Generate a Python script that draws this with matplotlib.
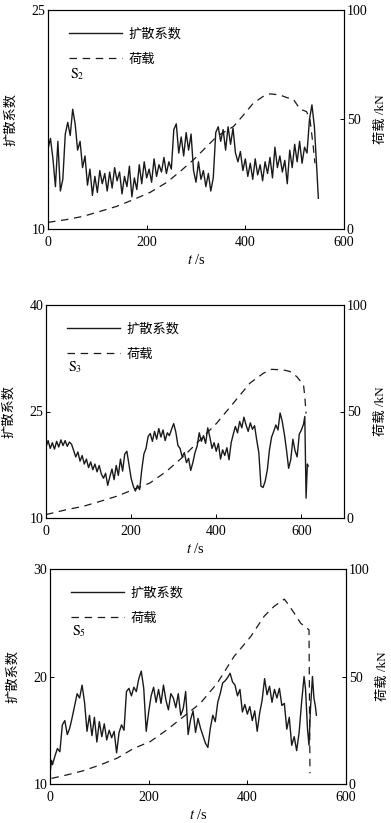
import matplotlib
matplotlib.use('Agg')
import matplotlib.pyplot as plt

plt.rcParams['font.family'] = ['Liberation Serif', 'Noto Sans CJK SC']
plt.rcParams['mathtext.fontset'] = 'stix'
plt.rcParams['axes.linewidth'] = 0.8

# ---- S2 ----
s2_t = [0, 5, 10, 15, 20, 25, 30, 35, 40, 45, 50, 55, 60, 65, 70, 75, 80, 85, 90, 95,
        100, 105, 110, 115, 120, 125, 130, 135, 140, 145, 150, 155, 160, 165, 170, 175, 180, 185, 190, 195,
        200, 205, 210, 215, 220, 225, 230, 235, 240, 245, 250, 255, 260, 265, 270, 275, 280, 285, 290, 295,
        300, 305, 310, 315, 320, 325, 330, 335, 340, 345, 350, 355, 360, 365, 370, 375, 380, 385, 390, 395,
        400, 405, 410, 415, 420, 425, 430, 435, 440, 445, 450, 455, 460, 465, 470, 475, 480, 485, 490, 495,
        500, 505, 510, 515, 520, 525, 530, 535, 540, 545, 548]
s2_d = [15.5, 16.2, 14.8, 12.9, 16.0, 12.6, 13.4, 16.5, 17.3, 16.4, 18.2, 17.2, 15.4, 16.0, 14.2, 15.0, 13.0, 14.1, 12.3, 13.6,
        12.5, 14.0, 13.1, 13.8, 12.6, 13.9, 12.8, 14.2, 13.3, 13.9, 12.4, 13.6, 12.9, 14.3, 12.2, 13.5, 12.7, 14.4, 13.1, 14.6,
        13.5, 14.1, 13.2, 14.8, 13.6, 14.4, 13.9, 14.9, 13.8, 14.6, 14.1, 16.8, 17.2, 15.2, 16.3, 15.0, 16.6, 15.4, 16.5, 14.0,
        13.2, 14.6, 13.4, 14.0, 12.9, 13.8, 12.6, 13.5, 16.6, 17.0, 16.0, 16.8, 15.4, 17.0, 15.8, 16.9, 15.2, 14.6, 15.3, 14.0,
        14.8, 13.6, 14.5, 13.4, 14.8, 13.7, 14.4, 13.3, 14.6, 13.8, 14.9, 13.5, 15.6, 14.2, 15.0, 13.9, 14.7, 13.1, 15.4, 14.2,
        15.8, 14.6, 16.0, 14.5, 15.6, 15.2, 17.5, 18.5, 17.0, 14.0, 12.1]
s2_lt = [0, 38, 72, 105, 139, 173, 207, 241, 268, 295, 322, 342, 376, 396, 416, 436, 450, 470, 484, 497, 511, 524, 531, 538, 541]
s2_load = [3.0, 4.3, 5.8, 8.0, 10.3, 13.4, 16.7, 21.3, 26.3, 31.6, 37.7, 42.2, 46.8, 52.0, 57.4, 60.5, 61.7, 61.2, 60.0, 59.3,
           54.7, 53.6, 50.0, 37.0, 30.0]

# ---- S3 ----
s3_t = [0, 5, 10, 15, 20, 25, 30, 35, 40, 45, 50, 55, 60, 65, 70, 75, 80, 85, 90, 95,
        100, 105, 110, 115, 120, 125, 130, 135, 140, 145, 150, 155, 160, 165, 170, 175, 180, 185, 190, 195,
        200, 205, 210, 215, 220, 225, 230, 235, 240, 245, 250, 255, 260, 265, 270, 275, 280, 285, 290, 295,
        300, 305, 310, 315, 320, 325, 330, 335, 340, 345, 350, 355, 360, 365, 370, 375, 380, 385, 390, 395,
        400, 405, 410, 415, 420, 425, 430, 435, 440, 445, 450, 455, 460, 465, 470, 475, 480, 485, 490, 495,
        500, 505, 510, 515, 520, 525, 530, 535, 540, 545, 550, 555, 560, 565, 570, 575, 580, 585, 590, 595,
        600, 605, 608, 611, 614, 616]
s3_d = [20.0, 20.9, 19.8, 20.6, 19.7, 20.8, 20.0, 21.0, 20.2, 20.9, 20.1, 20.7, 20.4, 19.5, 18.6, 19.3, 18.0, 18.8, 17.6, 18.3,
        17.1, 17.9, 16.8, 17.6, 16.5, 17.4, 16.2, 15.6, 16.3, 14.6, 15.8, 16.9, 15.4, 17.4, 16.0, 18.3, 16.6, 19.0, 19.4, 17.5,
        15.6, 14.5, 13.8, 14.6, 14.0, 16.8, 19.0, 19.8, 21.5, 21.9, 20.8, 22.2, 21.1, 22.6, 21.4, 22.4, 20.9, 22.0, 21.6, 22.5,
        23.3, 22.1, 20.2, 19.8, 18.6, 19.2, 17.8, 18.4, 16.7, 17.8, 19.2, 20.1, 22.0, 20.8, 21.6, 20.5, 22.7, 21.4, 19.8, 20.6,
        19.4, 20.5, 18.3, 19.6, 18.8, 19.9, 18.2, 20.6, 21.8, 22.9, 22.0, 23.6, 22.7, 24.2, 23.1, 22.2, 23.4, 22.5, 23.0, 21.0,
        19.2, 14.5, 14.3, 15.2, 16.8, 19.6, 21.4, 22.2, 23.1, 22.4, 24.8, 23.6, 21.8, 19.6, 17.0, 18.2, 21.1, 19.5, 18.6, 21.8,
        22.4, 23.2, 24.3, 12.8, 17.6, 17.3]
s3_lt = [0, 48, 88, 127, 166, 205, 244, 283, 323, 362, 401, 440, 479, 511, 530, 558, 573, 589, 605, 608, 611]
s3_load = [1.6, 3.9, 5.5, 7.8, 10.2, 13.3, 16.4, 21.9, 28.9, 36.7, 44.5, 53.9, 63.3, 68.0, 69.8, 69.5, 68.8, 66.4, 62.5, 57.0, 49.0]

# ---- S5 ----
s5_t = [0, 3, 5, 10, 15, 20, 25, 30, 35, 40, 45, 50, 55, 60, 65, 70, 75, 80, 85, 90, 95,
        100, 105, 110, 115, 120, 125, 130, 135, 140, 145, 150, 155, 160, 165, 170, 175, 180, 185, 190, 195,
        200, 205, 210, 215, 220, 225, 230, 235, 240, 245, 250, 255, 260, 265, 270, 275, 280, 285, 290, 295,
        300, 305, 310, 315, 320, 325, 330, 335, 340, 345, 350, 355, 360, 365, 370, 375, 380, 385, 390, 395,
        400, 405, 410, 415, 420, 425, 430, 435, 440, 445, 450, 455, 460, 465, 470, 475, 480, 485, 490, 495,
        500, 505, 510, 515, 518, 522, 525, 528, 532, 535, 538, 540]
s5_d = [11.0, 12.2, 11.8, 12.6, 13.3, 13.0, 15.5, 15.9, 14.6, 15.2, 16.2, 17.3, 18.4, 18.0, 19.2, 17.6, 14.9, 16.4, 14.5, 16.2, 13.9,
        15.8, 14.4, 15.6, 14.1, 15.0, 14.3, 14.9, 12.9, 14.8, 15.5, 15.0, 18.6, 18.9, 18.2, 19.0, 18.6, 19.8, 20.5, 18.9, 14.9,
        16.7, 18.2, 19.0, 17.6, 18.8, 17.5, 19.2, 17.8, 16.9, 18.4, 18.0, 17.1, 18.4, 16.4, 17.0, 18.6, 14.6, 16.0, 16.8, 14.8,
        16.1, 15.2, 14.5, 13.8, 13.4, 15.2, 16.4, 15.8, 17.6, 18.4, 19.4, 19.6, 19.9, 20.3, 19.5, 19.2, 18.2, 18.8, 16.7, 17.4,
        16.5, 17.2, 15.9, 16.8, 14.9, 16.6, 17.8, 19.8, 18.3, 19.1, 17.6, 18.8, 18.0, 18.9, 17.3, 17.5, 15.1, 16.2, 13.6, 14.4,
        13.1, 14.8, 17.6, 20.0, 18.8, 15.1, 13.6, 17.0, 20.0, 18.0, 17.2, 16.4]
s5_lt = [3, 34, 68, 102, 136, 170, 203, 237, 271, 305, 339, 373, 407, 434, 454, 475, 481, 495, 508, 525, 527]
s5_load = [2.6, 4.2, 6.2, 8.9, 12.0, 16.6, 19.7, 25.2, 31.4, 37.6, 46.9, 59.3, 68.6, 78.0, 82.6, 86.0, 84.2, 79.5, 74.8, 71.7, 5.0]

panels = [
    ('2', s2_t, s2_d, s2_lt, s2_load, (10, 25), [10, 25], 600, [0.1228, 0.7218, 0.757, 0.2661]),
    ('3', s3_t, s3_d, s3_lt, s3_load, (10, 40), [10, 25, 40], 700, [0.1176, 0.3706, 0.7621, 0.2588]),
    ('5', s5_t, s5_d, s5_lt, s5_load, (10, 30), [10, 20, 30], 600, [0.1279, 0.0474, 0.757, 0.2612]),
]

fig = plt.figure(figsize=(3.91, 8.23), dpi=100)

for sub, t, d, lt, load, ylim, yticks, xmax, pos in panels:
    ax = fig.add_axes(pos)
    ax2 = ax.twinx()
    l1, = ax.plot(t, d, color='#1a1a1a', lw=1.0, label='扩散系数')
    l2, = ax2.plot(lt, load, color='#1a1a1a', lw=0.9, dashes=(6, 4.5), label='荷载')
    ax.set_xlim(0, xmax)
    ax.set_ylim(*ylim)
    ax2.set_ylim(0, 100)
    ax.set_xticks([0, 200, 400, 600])
    ax.set_yticks(yticks)
    ax2.set_yticks([0, 50, 100])
    for a in (ax, ax2):
        a.tick_params(direction='in', length=3, width=0.7, labelsize=10, pad=2)
    ax.tick_params(axis='x', pad=5)
    ax.set_xlabel('$t$ /s', fontsize=10.5, labelpad=3)
    ax.set_ylabel('扩散系数', fontsize=9.5, labelpad=10)
    ax2.set_ylabel('荷载 /kN', fontsize=9.5, rotation=90, labelpad=5)
    ax2.legend([l1, l2], ['扩散系数', '荷载'], loc='upper left', bbox_to_anchor=(0.03, 0.97),
               frameon=False, fontsize=9.5, handlelength=4.0, labelspacing=0.95, handletextpad=0.5)
    ax2.text(0.074, 0.69, r'$\mathrm{S}_{%s}$' % sub, transform=ax2.transAxes, fontsize=10)

fig.savefig('out.png', dpi=100)
